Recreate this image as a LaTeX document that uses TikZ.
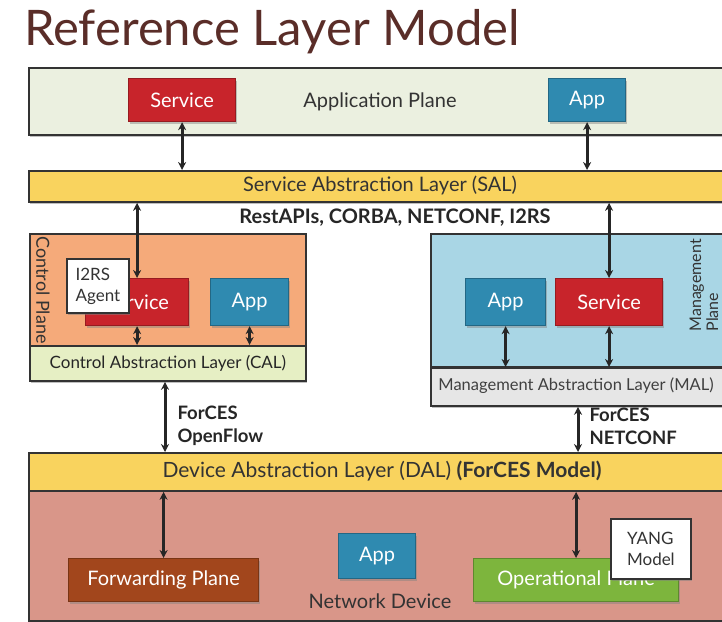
\documentclass[tikz,border=0pt]{standalone}
\usepackage{fontspec}
\setmainfont{Lato}
\usetikzlibrary{arrows.meta,shadows}
\definecolor{titlec}{HTML}{5A2D28}
\definecolor{linec}{HTML}{333333}
\definecolor{appbg}{HTML}{EBF0E0}
\definecolor{salc}{HTML}{F9D35E}
\definecolor{svcred}{HTML}{C8242B}
\definecolor{appblue}{HTML}{2F8AB0}
\definecolor{ctrlc}{HTML}{F5AA7A}
\definecolor{calc}{HTML}{E6EFC4}
\definecolor{mgmtc}{HTML}{A9D6E5}
\definecolor{malc}{HTML}{E6E6E6}
\definecolor{devc}{HTML}{D99689}
\definecolor{fwdc}{HTML}{A2461C}
\definecolor{opc}{HTML}{7DB53D}
\begin{document}
\begin{tikzpicture}[x=1pt,y=-1pt,
  box/.style={draw=linec, line width=1.8pt, anchor=north west, inner sep=0pt,
    drop shadow={shadow xshift=1pt, shadow yshift=-2pt, opacity=0.5}},
  cbox/.style={draw=#1!75!black, fill=#1, line width=1.2pt, anchor=north west, inner sep=0pt,
    drop shadow={shadow xshift=1pt, shadow yshift=-2pt, opacity=0.45}},
  lbl/.style={font=\fontsize{20}{22}\selectfont, text=black!80},
  wlbl/.style={font=\fontsize{20}{22}\selectfont, text=white},
  dbl/.style={{Stealth[length=8pt,width=8pt]}-{Stealth[length=8pt,width=8pt]}, line width=3pt, draw=black!85},
  proto/.style={font=\bfseries\fontsize{18.5}{23}\selectfont, text=black!85, align=left, anchor=west}]
\useasboundingbox (0,0) rectangle (722,621);
\fill[white] (0,0) rectangle (722,621);
\clip (0,0) rectangle (722,621);

% title
\node[anchor=west, font=\fontsize{49}{52}\selectfont, text=titlec, inner sep=0pt] (title) at (24,32) {Reference Layer Model};

% application plane
\node[box, fill=appbg, minimum width=706pt, minimum height=67pt] (appplane) at (28,67) {};
\node[cbox=svcred, minimum width=107pt, minimum height=43pt] (svc1) at (128,78) {};
\node[wlbl] (svc1t) at (svc1.center) {Service};
\node[lbl] (appt) at (380,102) {Application Plane};
\node[cbox=appblue, minimum width=77pt, minimum height=43pt] (app1) at (548,78) {};
\node[wlbl] (app1t) at (app1.center) {App};

% SAL
\node[box, fill=salc, minimum width=706pt, minimum height=31pt] (sal) at (28,170) {};
\node[lbl] (salt) at (380,185) {Service Abstraction Layer (SAL)};
\node[font=\bfseries\fontsize{20}{22}\selectfont, text=black!85] (rest) at (395,218) {RestAPIs, CORBA, NETCONF, I2RS};

\draw[dbl] (svc1.south) -- (svc1.south |- sal.north);
\draw[dbl] (app1.south) -- (app1.south |- sal.north);

% control plane
\node[box, fill=ctrlc, minimum width=276pt, minimum height=113pt] (ctrl) at (29,233) {};
\node[rotate=-90, font=\fontsize{18}{20}\selectfont, text=black!80] (ctrlt) at (43,290) {Control Plane};
\node[cbox=svcred, minimum width=103pt, minimum height=47pt] (csvc) at (85,278) {};
\node[wlbl] (csvct) at (csvc.center) {Service};
\node[cbox=appblue, minimum width=78pt, minimum height=47pt] (capp) at (210,278) {};
\node[wlbl] (cappt) at (capp.center) {App};
\node[box, fill=white, minimum width=62pt, minimum height=54pt] (i2rs) at (66,258) {};
\node[font=\fontsize{17}{21}\selectfont, text=black!80, align=left] (i2rst) at (i2rs.center) {I2RS\\Agent};
\node[box, fill=calc, minimum width=276pt, minimum height=35pt] (cal) at (29,345) {};
\node[font=\fontsize{17}{19}\selectfont, text=black!85] (calt) at (cal.center) {Control Abstraction Layer (CAL)};
\draw[dbl] (csvc.south) -- (csvc.south |- cal.north);
\draw[dbl] (capp.south) -- (capp.south |- cal.north);
\draw[dbl] (sal.south -| csvc.north) -- (csvc.north);

% management plane
\node[box, fill=mgmtc, minimum width=300pt, minimum height=133pt] (mgmt) at (430,233) {};
\node[rotate=90, anchor=west, align=left, font=\fontsize{16}{17}\selectfont, text=black!80] (mgmtt) at (704,335) {Management\\Plane};
\node[cbox=appblue, minimum width=80pt, minimum height=47pt] (mapp) at (465,278) {};
\node[wlbl] (mappt) at (mapp.center) {App};
\node[cbox=svcred, minimum width=107pt, minimum height=47pt] (msvc) at (555,278) {};
\node[wlbl] (msvct) at (msvc.center) {Service};
\node[box, fill=malc, minimum width=296pt, minimum height=38pt] (mal) at (430,367) {};
\node[font=\fontsize{16.5}{18}\selectfont, text=black!75] (malt) at (576,386) {Management Abstraction Layer (MAL)};
\draw[dbl] (mapp.south) -- (mapp.south |- mal.north);
\draw[dbl] (msvc.south) -- (msvc.south |- mal.north);
\draw[dbl] (sal.south -| msvc.north) -- (msvc.north);

% DAL
\node[box, fill=salc, minimum width=706pt, minimum height=38pt] (dal) at (28,452) {};
\node[font=\fontsize{21}{23}\selectfont, text=black!80] (dalt) at (382,471) {Device Abstraction Layer (DAL) \textbf{(ForCES Model)}};
\coordinate (calb) at (165,380);
\draw[dbl] (cal.south -| calb) -- (dal.north -| calb);
\node[proto] (p1) at (174,426) {ForCES\\OpenFlow};
\coordinate (malb) at (578,405);
\draw[dbl] (mal.south -| malb) -- (dal.north -| malb);
\node[proto] (p2) at (586,426) {ForCES\\NETCONF};

% network device
\node[box, fill=devc, minimum width=706pt, minimum height=130pt] (dev) at (28,490) {};
\node[cbox=fwdc, minimum width=190pt, minimum height=43pt] (fwd) at (68,558) {};
\node[wlbl] (fwdt) at (fwd.center) {Forwarding Plane};
\node[cbox=appblue, minimum width=77pt, minimum height=45pt] (dapp) at (338,533) {};
\node[wlbl] (dappt) at (dapp.center) {App};
\node[lbl] (devt) at (380,601) {Network Device};
\node[cbox=opc, minimum width=205pt, minimum height=43pt] (op) at (473,558) {};
\node[wlbl] (opt) at (op.center) {Operational Plane};
\node[box, fill=white, minimum width=80pt, minimum height=60pt] (yang) at (610,518) {};
\node[font=\fontsize{17}{21}\selectfont, text=black!80, align=left] (yangt) at (yang.center) {YANG\\Model};
\draw[dbl] (dal.south -| fwd.north) -- (fwd.north);
\draw[dbl] (dal.south -| op.north) -- (op.north);
\end{tikzpicture}
\end{document}
